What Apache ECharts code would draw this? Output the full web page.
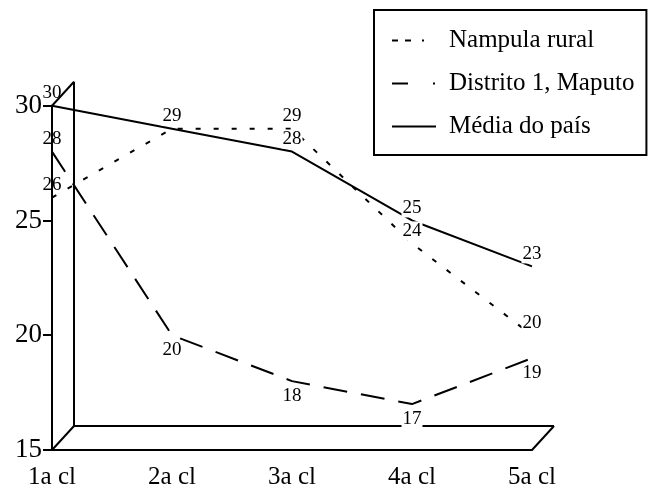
<!DOCTYPE html>
<html>
<head>
<meta charset="utf-8">
<script src="https://cdn.jsdelivr.net/npm/echarts@6/dist/echarts.min.js"></script>
<style>
  html, body { margin: 0; padding: 0; background: #fff; }
  #chart { width: 652px; height: 490px; }
</style>
</head>
<body>
<div id="chart"></div>
<script>
// Classes (grade levels) on the horizontal axis
var categories = ['1a cl', '2a cl', '3a cl', '4a cl', '5a cl'];

// Values per series
var nampulaRural = [26, 29, 29, 24, 20];
var distritoMaputo = [28, 20, 18, 17, 19];
var mediaPais = [30, 29, 28, 25, 23];

var seriesNames = ['Nampula rural', 'Distrito 1, Maputo', 'Média do país'];

// Value axis range and tick step
var yMin = 15, yMax = 30, yStep = 5;

var FONT = '"Liberation Serif", "DejaVu Serif", serif';
// Offset of the back plane used for the pseudo-3D wall and floor
var DEPTH_X = 22, DEPTH_Y = -24;

var chart = echarts.init(document.getElementById('chart'), null, { renderer: 'canvas' });

function labelCfg(position, first) {
  var cfg = {
    show: true,
    position: position,
    distance: position === 'top' ? 3 : 5,
    color: '#000',
    fontFamily: FONT,
    fontSize: 19
  };
  if (!first) {
    cfg.backgroundColor = '#fff';
    cfg.padding = [0, 1];
  }
  return cfg;
}

function buildData(values, positions, hidden) {
  return values.map(function (v, i) {
    var lbl = labelCfg(positions[i], i === 0);
    if (hidden && hidden[i]) lbl.show = false;
    return { value: v, label: lbl };
  });
}

function lineSeries(name, values, dash, positions, hidden) {
  return {
    name: name,
    type: 'line',
    symbol: 'circle',
    symbolSize: 0,
    showSymbol: true,
    lineStyle: { color: '#000', width: 2, type: dash },
    itemStyle: { color: '#000' },
    data: buildData(values, positions, hidden),
    z: 3
  };
}

var option = {
  backgroundColor: '#fff',
  animation: false,
  grid: { left: 52, right: 120, top: 105.7, bottom: 39.3, containLabel: false },
  legend: {
    orient: 'vertical',
    left: 374,
    top: 10,
    padding: [18, 12, 16, 17],
    itemGap: 18,
    itemWidth: 44,
    itemHeight: 14,
    borderColor: '#000',
    borderWidth: 2,
    backgroundColor: '#fff',
    textStyle: { color: '#000', fontFamily: FONT, fontSize: 25, padding: [0, 0, 0, 8] },
    data: [
      { name: seriesNames[0], itemStyle: { opacity: 0 }, lineStyle: { color: '#000', width: 2, type: [6, 7, 6, 11, 2, 30] } },
      { name: seriesNames[1], itemStyle: { opacity: 0 }, lineStyle: { color: '#000', width: 2, type: [16, 25, 2, 30] } },
      { name: seriesNames[2], itemStyle: { opacity: 0 }, lineStyle: { color: '#000', width: 2, type: 'solid' } }
    ]
  },
  xAxis: {
    type: 'category',
    data: categories,
    boundaryGap: false,
    axisLine: { show: true, lineStyle: { color: '#000', width: 2 } },
    axisTick: { show: false },
    splitLine: { show: false },
    axisLabel: { color: '#000', fontFamily: FONT, fontSize: 25, margin: 15 }
  },
  yAxis: {
    type: 'value',
    min: yMin,
    max: yMax,
    interval: yStep,
    axisLine: { show: true, lineStyle: { color: '#000', width: 2 } },
    axisTick: { show: true, inside: false, length: 9, lineStyle: { color: '#000', width: 2 } },
    splitLine: { show: false },
    axisLabel: { color: '#000', fontFamily: FONT, fontSize: 27, margin: 10 }
  },
  series: [
    lineSeries(seriesNames[0], nampulaRural, [5, 13], ['top', 'top', 'top', 'top', 'top'], [false, true, false, false, false]),
    lineSeries(seriesNames[1], distritoMaputo, [24, 14], ['top', 'bottom', 'bottom', 'bottom', 'bottom']),
    lineSeries(seriesNames[2], mediaPais, 'solid', ['top', 'top', 'top', 'top', 'top'])
  ]
};

chart.setOption(option);

// Back wall and floor, placed from the axis scales
var pBottomLeft = chart.convertToPixel({ gridIndex: 0 }, [categories[0], yMin]);
var pBottomRight = chart.convertToPixel({ gridIndex: 0 }, [categories[categories.length - 1], yMin]);
var pTopLeft = chart.convertToPixel({ gridIndex: 0 }, [categories[0], yMax]);

function seg(a, b) {
  return {
    type: 'line',
    z: 1,
    shape: { x1: a[0], y1: a[1], x2: b[0], y2: b[1] },
    style: { stroke: '#000', lineWidth: 2 }
  };
}
function back(p) { return [p[0] + DEPTH_X, p[1] + DEPTH_Y]; }

chart.setOption({
  graphic: [
    seg(back(pBottomLeft), back(pTopLeft)),
    seg(pTopLeft, back(pTopLeft)),
    seg(pBottomLeft, back(pBottomLeft)),
    seg(back(pBottomLeft), back(pBottomRight)),
    seg(pBottomRight, back(pBottomRight))
  ]
});
</script>
</body>
</html>
